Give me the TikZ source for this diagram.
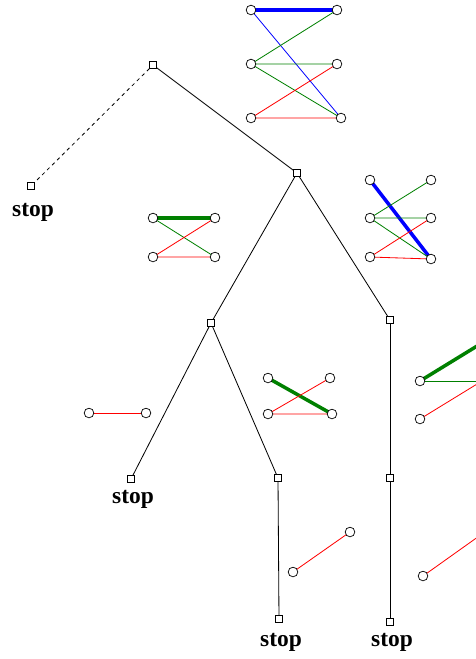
\documentclass[tikz,border=0pt]{standalone}
\usepackage{fontspec}
\setmainfont{Liberation Serif}
\usetikzlibrary{positioning}

\tikzset{
    state/.style={draw, fill=white, rectangle, inner sep=0pt, minimum size=0.2cm, line width=0.5pt},
    vtx/.style={draw, fill=white, circle, inner sep=0pt, minimum size=0.29cm, line width=0.6pt},
    stoplbl/.style={font=\fontsize{20}{24}\selectfont\bfseries, inner sep=0pt, anchor=base},
    edg/.style={line width=0.7pt},
    heavy/.style={line width=3pt},
    mygreen/.style={color=green!50!black},
}

\begin{document}
\begin{tikzpicture}[x=0.03cm, y=-0.03cm]
    \useasboundingbox (0,0) rectangle (476,659);

    % search tree
    \node[state] (root) at (153,65) {};
    \node[state] (s1) at (31,186) {};
    \node[state] (n1) at (297,173) {};
    \node[state] (n2) at (211,323) {};
    \node[state] (n3) at (390,320) {};
    \node[state] (s2) at (131,479) {};
    \node[state] (n4) at (278,478) {};
    \node[state] (s3) at (279,619) {};
    \node[state] (n5) at (390,478) {};
    \node[state] (s4) at (390,622) {};

    \draw[dashed, edg] (root) -- (s1);
    \draw[edg] (root) -- (n1);
    \draw[edg] (n1) -- (n2);
    \draw[edg] (n1) -- (n3);
    \draw[edg] (n2) -- (s2);
    \draw[edg] (n2) -- (n4);
    \draw[edg] (n4) -- (s3);
    \draw[edg] (n3) -- (n5);
    \draw[edg] (n5) -- (s4);

    \node[stoplbl] (s1lbl) at (33,216) {stop};
    \node[stoplbl] (s2lbl) at (133,503) {stop};
    \node[stoplbl] (s3lbl) at (281,646) {stop};
    \node[stoplbl] (s4lbl) at (392,646) {stop};

    % matchings
    \begin{scope}
        \clip (0,0) rectangle (476,659);

        % top
        \coordinate (a1) at (251,10);  \coordinate (b1) at (337,10);
        \coordinate (a2) at (251,64);  \coordinate (b2) at (337,64);
        \coordinate (a3) at (251,118); \coordinate (b3) at (341,118);
        \draw[blue, heavy] (a1) -- (b1);
        \draw[blue, edg] (a1) -- (b3);
        \draw[mygreen, edg] (a2) -- (b1) (a2) -- (b2) (a2) -- (b3);
        \draw[red, edg] (a3) -- (b2) (a3) -- (b3);

        % left of n1
        \coordinate (c1) at (153,218); \coordinate (d1) at (215,218);
        \coordinate (c2) at (153,257); \coordinate (d2) at (215,257);
        \draw[mygreen, heavy] (c1) -- (d1);
        \draw[mygreen, edg] (c1) -- (d2);
        \draw[red, edg] (c2) -- (d1) (c2) -- (d2);

        % right of n1
        \coordinate (e1) at (370,180); \coordinate (f1) at (431,180);
        \coordinate (e2) at (370,218); \coordinate (f2) at (431,218);
        \coordinate (e3) at (370,257); \coordinate (f3) at (431,259);
        \draw[blue, heavy] (e1) -- (f3);
        \draw[mygreen, edg] (e2) -- (f1) (e2) -- (f2) (e2) -- (f3);
        \draw[red, edg] (e3) -- (f2) (e3) -- (f3);

        % below n2
        \coordinate (g1) at (89,413); \coordinate (h1) at (146,413);
        \draw[red, edg] (g1) -- (h1);

        \coordinate (i1) at (268,378); \coordinate (j1) at (330,378);
        \coordinate (i2) at (268,414); \coordinate (j2) at (332,414);
        \draw[mygreen, heavy] (i1) -- (j2);
        \draw[red, edg] (i2) -- (j1) (i2) -- (j2);

        % below n3
        \coordinate (k1) at (420,381); \coordinate (l1) at (482,343);
        \coordinate (k2) at (420,419); \coordinate (l2) at (482,381);
        \draw[mygreen, heavy] (k1) -- (l1);
        \draw[mygreen, edg] (k1) -- (l2);
        \draw[red, edg] (k2) -- (l2);

        % below n4, n5
        \coordinate (m1) at (293,572); \coordinate (o1) at (350,532);
        \draw[red, edg] (m1) -- (o1);
        \coordinate (p1) at (423,576); \coordinate (q1) at (482,534);
        \draw[red, edg] (p1) -- (q1);

        \foreach \v in {a1,a2,a3,b1,b2,b3,c1,c2,d1,d2,e1,e2,e3,f1,f2,f3,
                        g1,h1,i1,i2,j1,j2,k1,k2,l1,l2,m1,o1,p1,q1}
            \node[vtx] at (\v) {};
    \end{scope}
\end{tikzpicture}
\end{document}
